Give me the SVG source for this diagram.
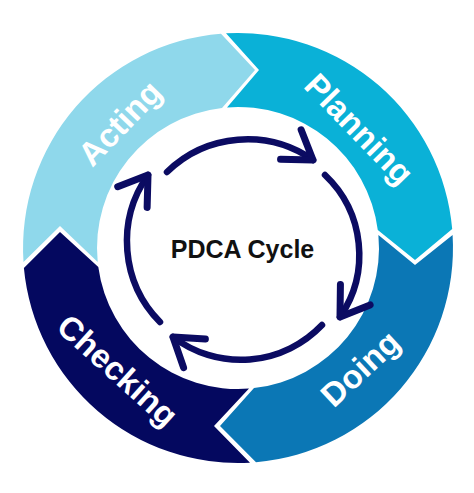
<svg xmlns="http://www.w3.org/2000/svg" width="474" height="493" viewBox="0 0 474 493">
  <style>
    .seg-label { font-family: "Liberation Sans", Arial, sans-serif; font-weight: bold; font-size: 33px; fill: #ffffff; text-anchor: middle; }
    .title { font-family: "Liberation Sans", Arial, sans-serif; font-weight: bold; font-size: 25px; fill: #111111; text-anchor: middle; }
    .cyc { fill: none; stroke: #0b0b62; stroke-width: 6.5; stroke-linecap: round; }
  </style>
  <defs>
    <marker id="head" markerUnits="userSpaceOnUse" markerWidth="70" markerHeight="70" viewBox="-45 -35 70 70" refX="0" refY="0" orient="auto" overflow="visible">
      <path d="M-27,-18 L0,0 L-27,18" fill="none" stroke="#0b0b62" stroke-width="7" stroke-linecap="round" stroke-linejoin="round"/>
    </marker>
  </defs>
  <rect width="474" height="493" fill="#ffffff"/>

  <g id="acting">
    <path d="M23.5,262 A215,215 0 0 1 221,33.7 L255,70 L222,107.9 A141,141 0 0 0 97.7,262 L60,226 Z" fill="#8fd8eb"/>
    <text class="seg-label" transform="translate(128,131) rotate(-46)">Acting</text>
  </g>
  <g id="planning">
    <path d="M226,33.3 A215,215 0 0 1 452.2,229 L415,260 L377.8,230 A141,141 0 0 0 227,107.4 L259,70 Z" fill="#0ab1d7"/>
    <text class="seg-label" transform="translate(351,137) rotate(46)">Planning</text>
  </g>
  <g id="doing">
    <path d="M452.6,235 A215,215 0 0 1 256,462.2 L220,426 L254,388.1 A141,141 0 0 0 378.4,235 L415,265 Z" fill="#0b77b5"/>
    <text class="seg-label" transform="translate(368,377) rotate(-43)">Doing</text>
  </g>
  <g id="checking">
    <path d="M250,462.7 A215,215 0 0 1 23.9,268 L60,232 L98.3,267 A141,141 0 0 0 249,388.6 L214,426 Z" fill="#04085f"/>
    <text class="seg-label" transform="translate(110,379) rotate(42)">Checking</text>
  </g>

  <g id="center">
    <text class="title" x="242.5" y="258">PDCA Cycle</text>
  </g>

  <g id="connectors">
    <path class="cyc" d="M167,172 A115,115 0 0 1 313,160" marker-end="url(#head)"/>
    <path class="cyc" d="M325,175 A110,110 0 0 1 340,317" marker-end="url(#head)"/>
    <path class="cyc" d="M322,325 A112,112 0 0 1 173,337" marker-end="url(#head)"/>
    <path class="cyc" d="M160,322 A115,115 0 0 1 148,175" marker-end="url(#head)"/>
  </g>
</svg>
